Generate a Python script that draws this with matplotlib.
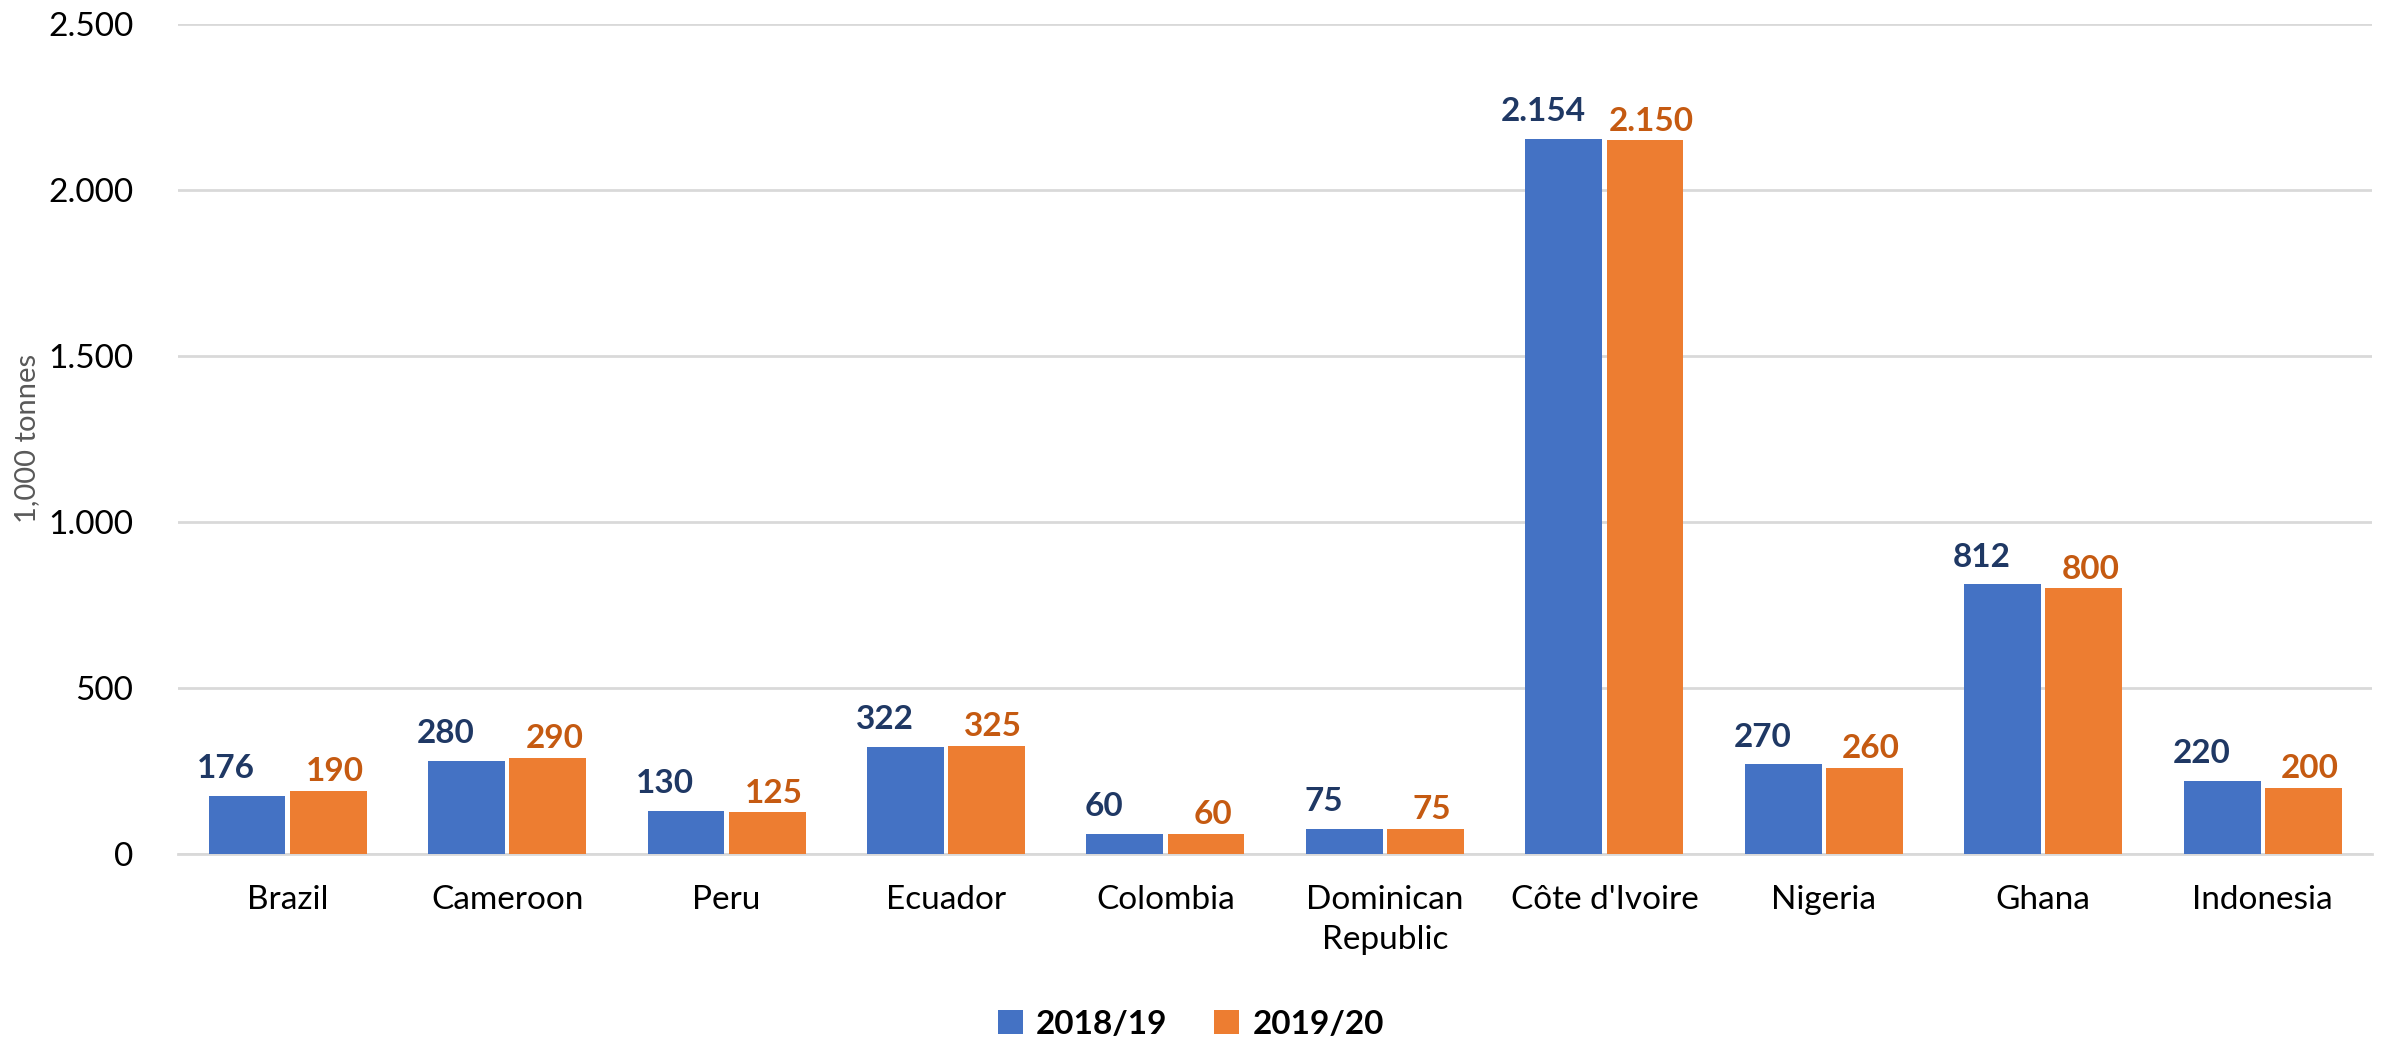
import matplotlib
matplotlib.use("Agg")
import matplotlib.pyplot as plt
import numpy as np
from matplotlib.ticker import FuncFormatter

categories = ["Brazil", "Cameroon", "Peru", "Ecuador", "Colombia", "Dominican\nRepublic",
              "Côte d'Ivoire", "Nigeria", "Ghana", "Indonesia"]
series_names = ["2018/19", "2019/20"]
values_1819 = [176, 280, 130, 322, 60, 75, 2154, 270, 812, 220]
values_1920 = [190, 290, 125, 325, 60, 75, 2150, 260, 800, 200]
yticks = [0, 500, 1000, 1500, 2000, 2500]

plt.rcParams['font.family'] = ['Lato', 'DejaVu Sans']

fig = plt.figure(figsize=(23.82, 10.45), dpi=100)
ax = fig.add_axes([0.0747, 0.1828, 0.9213, 0.7942])

x = np.arange(len(categories))
w = 0.35
gap = 0.01
bar_colors = ["#4472C4", "#ED7D31"]
label_colors = ["#1F3864", "#C55A11"]

def fmt(v):
    return f"{v:,.0f}".replace(",", ".")

b1 = ax.bar(x - w/2 - gap, values_1819, w, color=bar_colors[0], label=series_names[0], zorder=3)
b2 = ax.bar(x + w/2 + gap, values_1920, w, color=bar_colors[1], label=series_names[1], zorder=3)

for xi, v in zip(x, values_1819):
    ax.text(xi - w/2 - gap - 0.095, v + 38, fmt(v), ha="center", va="bottom",
            fontsize=24, fontweight="bold", color=label_colors[0])
for xi, v in zip(x, values_1920):
    ax.text(xi + w/2 + gap + 0.03, v + 14, fmt(v), ha="center", va="bottom",
            fontsize=24, fontweight="bold", color=label_colors[1])

ax.set_xlim(-0.5, len(categories) - 0.5)
ax.set_ylim(0, 2500)
ax.set_yticks(yticks)
ax.yaxis.set_major_formatter(FuncFormatter(lambda v, p: fmt(v)))
ax.set_xticks(x)
ax.set_xticklabels(categories, fontsize=24, linespacing=1.45)
ax.tick_params(axis="both", length=0, labelsize=24, colors="black")
ax.tick_params(axis="x", pad=22)
ax.tick_params(axis="y", pad=32)
ax.grid(axis="y", color="#D9D9D9", linewidth=2, zorder=0)
for s in ["top", "right", "left"]:
    ax.spines[s].set_visible(False)
ax.spines["bottom"].set_color("#D9D9D9")
ax.spines["bottom"].set_linewidth(2)

fig.text(0.006, 0.58, "1,000 tonnes", rotation=90, ha="left", va="center",
         fontsize=21, color="#595959")

leg = fig.legend(handles=[b1, b2], labels=series_names, loc="center",
                 bbox_to_anchor=(0.5, 0.02), ncol=2, frameon=False,
                 prop={"size": 24, "weight": "bold"}, handlelength=0.75,
                 handleheight=0.75, columnspacing=1.4, handletextpad=0.4)

fig.savefig("out.png", dpi=100)
